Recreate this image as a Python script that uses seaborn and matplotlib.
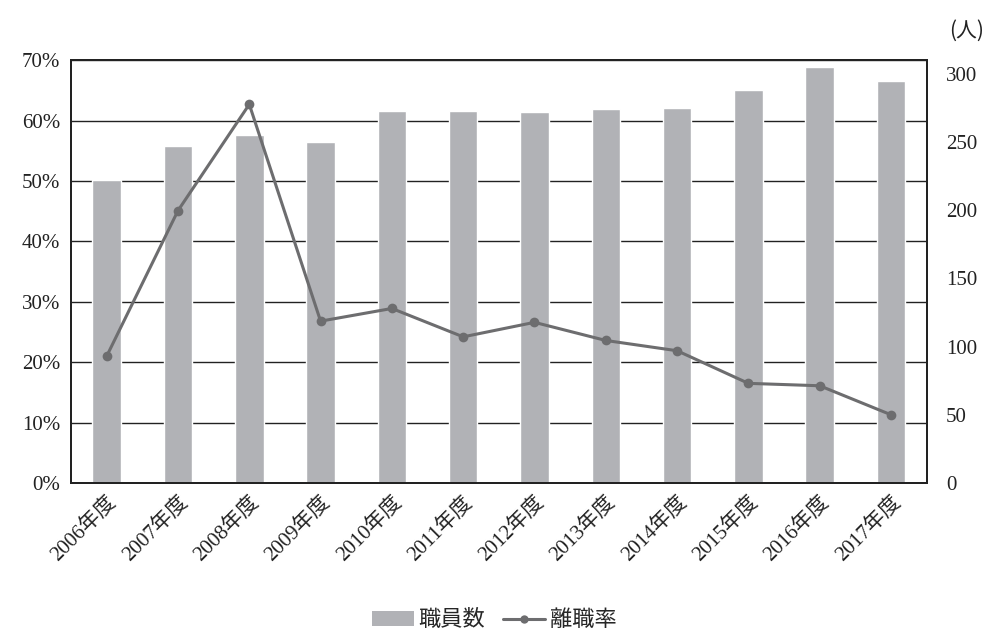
import matplotlib
matplotlib.use("Agg")
import matplotlib.pyplot as plt
import seaborn as sns
import pandas as pd
from matplotlib.patches import Patch
from matplotlib.lines import Line2D
from matplotlib.ticker import FuncFormatter

years = ["2006年度", "2007年度", "2008年度", "2009年度", "2010年度", "2011年度",
         "2012年度", "2013年度", "2014年度", "2015年度", "2016年度", "2017年度"]
staff = [222, 247, 255, 250, 273, 273, 272, 274, 275, 288, 305, 295]
turnover = [21.0, 45.1, 62.7, 26.8, 28.9, 24.2, 26.6, 23.6, 21.9, 16.5, 16.1, 11.3]

df = pd.DataFrame({"year": years, "staff": staff, "turnover": turnover})

sns.set_theme(style="white")
FONT = ["Liberation Serif", "Noto Sans CJK JP", "DejaVu Sans"]
plt.rcParams["font.family"] = FONT

BAR_C = "#b1b2b6"
LINE_C = "#6d6d6f"

fig = plt.figure(figsize=(9.88, 6.41), dpi=100)
ax = fig.add_axes([0.0719, 0.2465, 0.866, 0.6595])
ax_bar = ax.twinx()
ax_line = ax.twinx()

# percentage axis with grid
ax.set_ylim(0, 70)
ax.set_yticks(range(0, 71, 10))
ax.yaxis.set_major_formatter(FuncFormatter(lambda v, p: f"{int(v)}%"))
ax.grid(axis="y", color="#222222", linewidth=1.0)
ax.grid(axis="x", visible=False)
ax.set_xlim(-0.5, len(years) - 0.5)

# bars on right axis
sns.barplot(data=df, x="year", y="staff", color=BAR_C, width=0.4,
            saturation=1, ax=ax_bar, zorder=2)
ax_bar.set_ylim(0, 310)
ax_bar.set_yticks(range(0, 301, 50))
ax_bar.set_xlim(-0.5, len(years) - 0.5)
ax_bar.set_ylabel("")
ax_bar.set_xlabel("")

# line
sns.lineplot(data=df, x="year", y="turnover", color=LINE_C, linewidth=2.2,
             marker="o", markersize=7, markeredgewidth=0, ax=ax_line, sort=False)
ax_line.set_ylim(0, 70)
ax_line.set_xlim(-0.5, len(years) - 0.5)
ax_line.set_yticks([])
ax_line.set_ylabel("")
ax_line.set_xlabel("")

ax.set_xticks(range(len(years)))
ax.set_xticklabels(years, rotation=45, ha="right", rotation_mode="anchor")
for a in (ax, ax_bar, ax_line):
    a.tick_params(axis="both", length=0, labelsize=15, colors="#222222")
ax.tick_params(axis="y", pad=8)
ax.tick_params(axis="x", pad=7)
ax_bar.tick_params(axis="y", pad=14)
ax_bar.tick_params(axis="x", labelbottom=False)
ax_line.tick_params(axis="x", labelbottom=False)
ax.set_ylabel("")
ax.set_xlabel("")

for a in (ax, ax_bar, ax_line):
    for s in a.spines.values():
        s.set_color("#222222")
        s.set_linewidth(1.3)

fig.text(0.996, 0.952, "(人)", ha="right", va="center", fontsize=15,
         color="#222222", family=["Noto Sans CJK JP"])

handles = [Patch(facecolor=BAR_C, edgecolor="none"),
           Line2D([0], [0], color=LINE_C, linewidth=2.2, marker="o",
                  markersize=6, markeredgewidth=0)]
fig.legend(handles, ["職員数", "離職率"], loc="center", ncol=2,
           bbox_to_anchor=(0.5, 0.033), frameon=False,
           handlelength=1.9, handletextpad=0.2, columnspacing=0.8,
           prop={"family": ["Noto Sans CJK JP"], "size": 16})

fig.savefig("out.png", dpi=100)
